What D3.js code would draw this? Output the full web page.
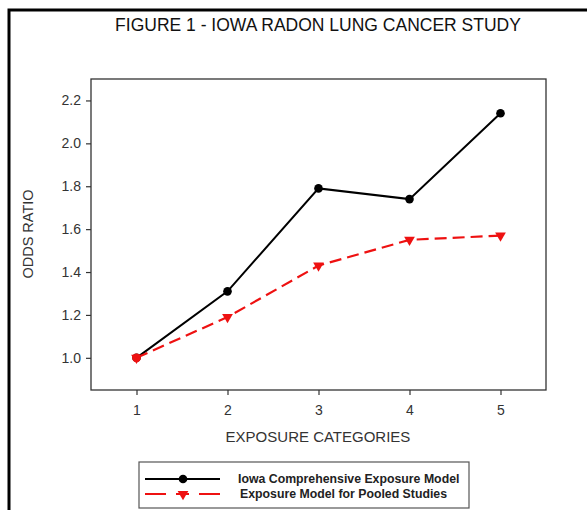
<!DOCTYPE html>
<html>
<head>
<meta charset="utf-8">
<script src="https://cdn.jsdelivr.net/npm/d3@7"></script>
<style>
  body { margin: 0; background: #fff; }
  svg { display: block; font-family: "Liberation Sans", Arial, sans-serif; }
</style>
</head>
<body>
<div id="chart"></div>
<script>
// Data
const categories = [1, 2, 3, 4, 5];
const iowaModel = [1.0, 1.31, 1.79, 1.74, 2.14];
const pooledModel = [1.0, 1.19, 1.43, 1.55, 1.57];
const yTicks = [1.0, 1.2, 1.4, 1.6, 1.8, 2.0, 2.2];
const seriesNames = ['Iowa Comprehensive Exposure Model', 'Exposure Model for Pooled Studies'];

const width = 587;
const height = 510;
const plot = { left: 91, right: 546, top: 79, bottom: 390 };
const red = '#ee1111';

const svg = d3.select('#chart')
    .append('svg')
    .attr('width', width)
    .attr('height', height);

// outer frame (runs off the right and bottom of the picture)
svg.append('rect')
    .attr('x', 9).attr('y', 10)
    .attr('width', 600).attr('height', 520)
    .attr('fill', 'none')
    .attr('stroke', '#000')
    .attr('stroke-width', 3);

svg.append('text')
    .attr('x', 318).attr('y', 31)
    .attr('text-anchor', 'middle')
    .attr('font-size', 17.5)
    .attr('fill', '#111')
    .text('FIGURE 1 - IOWA RADON LUNG CANCER STUDY');

const x = d3.scaleLinear().domain([0.5, 5.5]).range([plot.left, plot.right]);
const y = d3.scaleLinear().domain([0.85, 2.3]).range([plot.bottom, plot.top]);

// plot box
svg.append('rect')
    .attr('x', plot.left).attr('y', plot.top)
    .attr('width', plot.right - plot.left)
    .attr('height', plot.bottom - plot.top)
    .attr('fill', 'none')
    .attr('stroke', '#333')
    .attr('stroke-width', 1.3);

const xAxis = svg.append('g')
    .attr('transform', `translate(0,${plot.bottom})`)
    .call(d3.axisBottom(x).tickValues(categories).tickFormat(d3.format('d')).tickSize(5).tickSizeOuter(0));

const yAxis = svg.append('g')
    .attr('transform', `translate(${plot.left},0)`)
    .call(d3.axisLeft(y).tickValues(yTicks).tickFormat(d3.format('.1f')).tickSize(5).tickSizeOuter(0));

[xAxis, yAxis].forEach(g => {
    g.select('.domain').remove();
    g.selectAll('line').attr('stroke', '#333').attr('stroke-width', 1.2);
    g.selectAll('text')
        .attr('font-family', '"Liberation Sans", Arial, sans-serif')
        .attr('font-size', 14)
        .attr('fill', '#333');
});
xAxis.selectAll('text').attr('dy', '1.2em');
yAxis.selectAll('text').attr('x', -10);

svg.append('text')
    .attr('x', 318).attr('y', 442)
    .attr('text-anchor', 'middle')
    .attr('font-size', 15)
    .attr('fill', '#333')
    .text('EXPOSURE CATEGORIES');

svg.append('text')
    .attr('transform', 'translate(33,234) rotate(-90)')
    .attr('text-anchor', 'middle')
    .attr('font-size', 14.5)
    .attr('fill', '#333')
    .text('ODDS RATIO');

const line = d3.line()
    .x((d, i) => x(categories[i]))
    .y(d => y(d));

const tri = d3.symbol().type(d3.symbolTriangle).size(50);

// Iowa model: solid black with circles
svg.append('path')
    .datum(iowaModel)
    .attr('d', line)
    .attr('fill', 'none')
    .attr('stroke', '#000')
    .attr('stroke-width', 2);

svg.append('g').selectAll('circle')
    .data(iowaModel)
    .join('circle')
    .attr('cx', (d, i) => x(categories[i]))
    .attr('cy', d => y(d))
    .attr('r', 4.3)
    .attr('fill', '#000');

// pooled model: dashed red with down triangles
svg.append('path')
    .datum(pooledModel)
    .attr('d', line)
    .attr('fill', 'none')
    .attr('stroke', red)
    .attr('stroke-width', 2.2)
    .attr('stroke-dasharray', '12,6');

svg.append('g').selectAll('path')
    .data(pooledModel)
    .join('path')
    .attr('d', tri)
    .attr('transform', (d, i) => `translate(${x(categories[i])},${y(d)}) rotate(180)`)
    .attr('fill', red);

svg.append('circle')
    .attr('cx', x(1)).attr('cy', y(1.0))
    .attr('r', 4.4)
    .attr('fill', red);

// legend
const legend = svg.append('g');
legend.append('rect')
    .attr('x', 139).attr('y', 462)
    .attr('width', 330).attr('height', 46)
    .attr('fill', '#fff')
    .attr('stroke', '#555')
    .attr('stroke-width', 1.2);

legend.append('line')
    .attr('x1', 145).attr('x2', 220).attr('y1', 479).attr('y2', 479)
    .attr('stroke', '#000').attr('stroke-width', 2);
legend.append('circle')
    .attr('cx', 183).attr('cy', 479).attr('r', 4.3).attr('fill', '#000');

legend.append('line')
    .attr('x1', 145).attr('x2', 220).attr('y1', 494).attr('y2', 494)
    .attr('stroke', red).attr('stroke-width', 2.2)
    .attr('stroke-dasharray', '21,10,13,10,21');
legend.append('path')
    .attr('d', tri)
    .attr('transform', 'translate(183,494) rotate(180)')
    .attr('fill', red);

legend.selectAll('text')
    .data(seriesNames)
    .join('text')
    .attr('x', (d, i) => i === 0 ? 238 : 240)
    .attr('y', (d, i) => 483 + i * 15)
    .attr('font-size', 12.3)
    .attr('font-weight', 'bold')
    .attr('fill', '#222')
    .text(d => d);
</script>
</body>
</html>
